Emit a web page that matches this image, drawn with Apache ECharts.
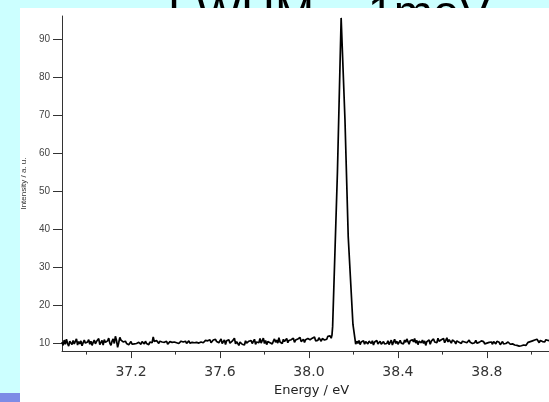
<!DOCTYPE html>
<html>
<head>
<meta charset="utf-8">
<script src="https://cdn.jsdelivr.net/npm/echarts@6/dist/echarts.min.js"></script>
<style>html,body{margin:0;padding:0;background:#ccffff;}#c{width:549px;height:402px;}</style>
</head>
<body>
<div id="c"></div>
<script>
// ---- data ----
const titleText = 'FWHM ~ 1meV';
const xAxisName = 'Energy / eV';
const yAxisName = 'Intensity / a. u.';
const xMajorTicks = [37.2, 37.6, 38.0, 38.4, 38.8];
const xMinorTicks = [37.0, 37.4, 37.8, 38.2, 38.6, 39.0];
const yTicks = [10, 20, 30, 40, 50, 60, 70, 80, 90];

// baseline left of the peak: 36.890 ... 38.095 eV, every 0.005 eV
const leftStart = 36.89;
const leftStep = 0.005;
const leftIntensity = [
  10.4, 9.5, 10.9, 9.8, 11.1, 10.0, 9.3, 10.6, 10.1, 9.7,
  10.8, 9.9, 10.3, 11.2, 9.6, 10.5, 9.9, 10.7, 9.4, 10.2,
  10.9, 10.1, 9.6, 10.4, 11.0, 9.8, 10.6, 9.5, 10.3, 10.9,
  9.9, 10.5, 10.0, 11.3, 9.7, 10.2, 10.8, 9.6, 11.0, 10.3,
  9.8, 10.7, 11.4, 10.1, 9.5, 10.6, 11.2, 10.0, 11.9, 10.8,
  9.0, 10.2, 11.6, 10.9, 11.3, 10.4, 9.9, 10.6, 10.0, 10.3,
  9.7, 10.1, 10.5, 9.8, 10.2, 9.9, 10.4, 10.0, 9.6, 10.3,
  10.1, 9.8, 10.5, 10.2, 9.9, 10.6, 10.0, 10.3, 9.7, 10.4,
  10.9, 10.2, 11.7, 10.5, 10.1, 10.8, 10.3, 10.0, 10.6, 10.2,
  10.4, 9.9, 10.3, 10.1, 10.6, 9.8, 10.2, 10.5, 10.0, 10.3,
  10.1, 10.4, 9.9, 10.2, 10.5, 10.0, 10.3, 10.6, 10.1, 10.4,
  10.2, 10.6, 10.0, 10.4, 10.7, 10.1, 10.5, 10.3, 10.8, 10.2,
  10.5, 10.3, 10.7, 10.1, 10.6, 10.4, 10.9, 10.2, 10.5, 10.8,
  10.3, 10.7, 10.4, 11.0, 10.2, 10.6, 10.9, 10.4, 11.1, 10.5,
  10.8, 10.2, 10.6, 11.2, 10.0, 10.5, 10.9, 9.7, 10.7, 10.3,
  11.0, 10.1, 9.6, 10.6, 10.2, 11.4, 9.9, 10.5, 10.8, 9.5,
  10.4, 10.9, 9.8, 10.3, 9.6, 10.7, 10.1, 9.9, 10.6, 10.2,
  10.8, 10.0, 10.5, 11.1, 9.8, 10.4, 10.9, 10.2, 11.3, 10.1,
  10.6, 11.4, 10.0, 10.8, 9.7, 10.5, 11.0, 10.2, 10.7, 9.9,
  10.6, 11.2, 10.3, 10.9, 10.1, 11.5, 10.4, 10.7, 10.0, 11.1,
  10.5, 10.9, 11.3, 10.2, 10.8, 10.4, 11.0, 10.6, 11.4, 10.3,
  10.9, 10.4, 11.2, 10.7, 11.6, 10.5, 10.9, 11.1, 10.3, 11.0,
  10.6, 11.3, 10.8, 11.0, 10.5, 11.4, 10.9, 11.7, 10.7, 11.2,
  10.8, 11.5, 11.0, 10.6, 11.3, 11.8, 10.9, 11.4, 11.1, 11.9,
  11.5, 12.0
];

// the peak
const peakEnergy    = [38.100, 38.1035, 38.1065, 38.128, 38.1447, 38.1475, 38.1506, 38.1618, 38.1766, 38.1978, 38.2067, 38.2100];
const peakIntensity = [11.4,   12.2,    14.5,    55.0,   95.6,    96.0,    95.3,    69.0,    38.0,    15.0,    11.3,    9.8];

// baseline right of the peak: 38.215 ... 39.085 eV, every 0.005 eV
const rightStart = 38.215;
const rightStep = 0.005;
const rightIntensity = [
  10.6, 10.0, 10.8, 9.7, 10.4, 10.1, 10.7, 9.8, 10.5, 10.2,
  9.9, 10.6, 10.3, 10.0, 10.7, 9.6, 10.4, 10.1, 10.8, 9.9,
  10.3, 10.6, 9.8, 10.2, 10.5, 9.9, 10.4, 10.0, 10.7, 9.7,
  10.3, 10.9, 9.6, 10.4, 11.1, 10.0, 10.6, 9.8, 10.3, 10.8,
  10.1, 10.6, 9.9, 10.9, 10.3, 11.2, 10.5, 9.8, 10.7, 10.2,
  11.0, 10.4, 11.3, 10.1, 10.8, 9.7, 10.6, 11.1, 10.2, 10.9,
  10.0, 10.7, 9.5, 10.5, 10.1, 10.9, 9.8, 10.6, 10.3, 11.2,
  10.4, 10.9, 10.2, 11.4, 10.6, 10.1, 11.0, 10.5, 11.3, 10.2,
  10.8, 11.5, 10.4, 11.0, 10.6, 10.1, 10.9, 11.3, 10.5, 9.9,
  10.7, 11.1, 10.3, 10.8, 10.0, 10.6, 11.0, 10.4, 10.7, 10.2,
  10.5, 10.9, 10.3, 10.7, 10.0, 10.5, 10.2, 10.8, 10.1, 10.6,
  10.3, 10.0, 10.7, 10.2, 10.5, 9.9, 10.4, 10.1, 10.6, 10.3,
  10.0, 10.4, 9.8, 10.5, 10.2, 9.9, 10.6, 10.1, 10.3, 9.7,
  10.2, 10.5, 9.9, 10.3, 10.0, 9.6, 10.4, 10.1, 9.8, 10.3,
  9.9, 10.2, 9.6, 10.0, 9.5, 9.8, 9.3, 9.7, 9.4, 9.9,
  9.6, 10.1, 9.5, 9.9, 10.3, 9.8, 10.5, 10.1, 10.7, 10.3,
  10.9, 10.4, 11.1, 10.6, 10.2, 10.8, 11.2, 10.5, 10.9, 10.4,
  11.0, 10.6, 10.8, 10.5, 10.7
];

// ---- build series ----
const seriesData = [];
leftIntensity.forEach((v, i) => seriesData.push([+(leftStart + i * leftStep).toFixed(4), v]));
peakIntensity.forEach((v, i) => seriesData.push([peakEnergy[i], v]));
rightIntensity.forEach((v, i) => seriesData.push([+(rightStart + i * rightStep).toFixed(4), v]));

const X_MIN = 36.89, X_MAX = 39.079;
const Y_MIN = 8.0, Y_MAX = 96.1;

const chart = echarts.init(document.getElementById('c'), null, {renderer: 'canvas'});
chart.setOption({
  animation: false,
  backgroundColor: '#ccffff',
  graphic: [
    {type: 'text', z: 1, left: 168, top: -8,
     style: {text: titleText, font: '47px "Liberation Sans", Arial, sans-serif', fill: '#000'}},
    {type: 'rect', z: 2, shape: {x: 20, y: 8, width: 529, height: 394}, style: {fill: '#ffffff'}},
    {type: 'rect', z: 2, shape: {x: 0, y: 393, width: 20, height: 9}, style: {fill: '#7d8ce6'}}
  ],
  grid: {left: 62, right: 0, top: 16, bottom: 45, containLabel: false},
  xAxis: [{
    type: 'value', min: X_MIN, max: X_MAX, position: 'bottom', z: 5,
    name: xAxisName, nameLocation: 'middle', nameGap: 32,
    nameTextStyle: {fontFamily: 'DejaVu Sans', fontSize: 13, color: '#222', padding: [0, 0, 0, 12]},
    axisLine: {show: true, onZero: false, lineStyle: {color: '#333', width: 1}},
    axisTick: {show: true, customValues: xMajorTicks, length: 7, lineStyle: {color: '#333'}},
    axisLabel: {customValues: xMajorTicks, margin: 14, fontFamily: 'DejaVu Sans', fontSize: 14, color: '#333',
      formatter: v => v.toFixed(1)},
    splitLine: {show: false}
  }, {
    type: 'value', min: X_MIN, max: X_MAX, position: 'bottom', z: 5,
    axisLine: {show: false},
    axisTick: {show: true, customValues: xMinorTicks, length: 3.5, lineStyle: {color: '#333'}},
    axisLabel: {show: false},
    splitLine: {show: false}
  }],
  yAxis: {
    type: 'value', min: Y_MIN, max: Y_MAX, z: 5,
    name: yAxisName, nameLocation: 'middle', nameGap: 33,
    nameTextStyle: {fontFamily: '"Liberation Sans", Arial, sans-serif', fontSize: 8, color: '#333'},
    axisLine: {show: true, lineStyle: {color: '#333', width: 1}},
    axisTick: {show: true, customValues: yTicks, length: 9, lineStyle: {color: '#333'}},
    axisLabel: {customValues: yTicks, margin: 12, fontFamily: '"Liberation Sans", Arial, sans-serif', fontSize: 10, color: '#444'},
    splitLine: {show: false}
  },
  series: [{
    type: 'line', xAxisIndex: 0, z: 6, data: seriesData, showSymbol: false, symbol: 'none',
    clip: true, lineStyle: {color: '#000', width: 1.7}
  }]
});
</script>
</body>
</html>
